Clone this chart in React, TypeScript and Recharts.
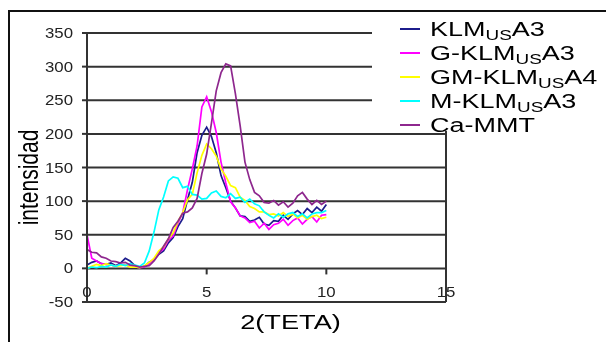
import { LineChart, Line, XAxis, YAxis, CartesianGrid, ReferenceLine, Legend } from "recharts";

// 2θ positions, same for every sample
const twoTheta = [0, 0.2, 0.4, 0.6, 0.8, 1, 1.2, 1.4, 1.6, 1.8, 2, 2.2, 2.4, 2.6, 2.8, 3, 3.2, 3.4, 3.6, 3.8, 4, 4.2, 4.4, 4.6, 4.8, 5, 5.2, 5.4, 5.6, 5.8, 6, 6.2, 6.4, 6.6, 6.8, 7, 7.2, 7.4, 7.6, 7.8, 8, 8.2, 8.4, 8.6, 8.8, 9, 9.2, 9.4, 9.6, 9.8, 10];

const klm = [5, 9, 11, 7, 6, 8, 4, 8, 15, 11, 4, 1, 3, 9, 13, 21, 26, 38, 46, 62, 74, 102, 128, 172, 198, 210, 196, 172, 138, 120, 100, 90, 78, 77, 70, 72, 76, 66, 64, 71, 70, 79, 73, 81, 86, 80, 89, 83, 91, 85, 95];
const gKlm = [50, 15, 11, 7, 6, 5, 3, 6, 5, 4, 2, 1, 2, 7, 14, 23, 29, 42, 48, 67, 83, 117, 148, 182, 240, 255, 233, 202, 158, 127, 99, 90, 78, 75, 68, 70, 60, 67, 58, 65, 67, 73, 64, 71, 75, 66, 73, 77, 69, 79, 80];
const gmKlm = [0, 3, 6, 4, 7, 5, 3, 4, 5, 2, 2, 1, 4, 9, 15, 26, 32, 44, 53, 70, 83, 102, 110, 142, 168, 185, 178, 167, 148, 137, 123, 120, 106, 101, 92, 89, 84, 84, 80, 81, 78, 83, 77, 81, 75, 79, 73, 77, 79, 74, 76];
const mKlm = [0, 2, 1, 3, 2, 5, 3, 6, 4, 7, 5, 3, 8, 26, 54, 87, 106, 130, 136, 134, 120, 122, 110, 109, 103, 104, 112, 115, 107, 105, 111, 104, 106, 98, 103, 96, 93, 84, 79, 75, 81, 76, 81, 83, 77, 81, 75, 81, 83, 83, 86];
const caMmt = [28, 24, 23, 17, 15, 11, 10, 8, 9, 5, 4, 2, 3, 4, 11, 21, 33, 44, 61, 70, 82, 84, 90, 104, 141, 170, 216, 264, 291, 304, 301, 260, 212, 158, 132, 113, 108, 98, 97, 101, 94, 99, 91, 97, 108, 113, 103, 95, 101, 95, 100];

const seriesKeys = ["klm", "gKlm", "gmKlm", "mKlm", "caMmt"];
const labelMain = ["KLM", "G-KLM", "GM-KLM", "M-KLM", "Ca-MMT"];
const labelSub = ["US", "US", "US", "US", ""];
const labelEnd = ["A3", "A3", "A4", "A3", ""];
const colors = ["#1c1c8c", "#ff00ff", "#ffff00", "#00ffff", "#8e278e"];

const xTicks = [0, 5, 10, 15];
const yTicks = [-50, 0, 50, 100, 150, 200, 250, 300, 350];

const rows = twoTheta.map((x, i) => ({
  x,
  klm: klm[i],
  gKlm: gKlm[i],
  gmKlm: gmKlm[i],
  mKlm: mKlm[i],
  caMmt: caMmt[i],
}));

const FONT = "'Liberation Sans', Arial, sans-serif";
const GRID = "#333";

const YTick = ({ x, y, payload }: any) => (
  <text transform={`translate(${x},${y}) scale(1.2,1)`} textAnchor="end" dy="0.36em"
    fontSize={14} fill="#222" fontFamily={FONT}>{payload.value}</text>
);

const XTick = ({ x, y, payload }: any) => (
  <text transform={`translate(${x},${y - 10}) scale(1.2,1)`} textAnchor="middle" dy="0.36em"
    fontSize={14} fill="#222" fontFamily={FONT}>{payload.value}</text>
);

const renderLegend = () => (
  <div style={{ paddingTop: 4, fontFamily: FONT }}>
    {labelMain.map((m, i) => (
      <div key={m} style={{ height: 24, display: "flex", alignItems: "center" }}>
        <span style={{ marginLeft: 28, width: 20, height: 2, background: colors[i] }} />
        <span style={{ marginLeft: 10, fontSize: 20, lineHeight: "18px", color: "#000", display: "inline-block",
          transform: "scaleX(1.35)", transformOrigin: "left center", whiteSpace: "nowrap" }}>
          {m}
          {labelSub[i] && <span style={{ fontSize: 14, lineHeight: "12px", position: "relative", top: 4 }}>{labelSub[i]}</span>}
          {labelEnd[i]}
        </span>
      </div>
    ))}
  </div>
);

export default function App() {
  return (
    <>
      {/* outer frame of the figure */}
      <div style={{ position: "fixed", left: 8, top: 10, width: 700, height: 400,
        borderTop: "2px solid #111", borderLeft: "2px solid #111" }} />
      <div style={{ position: "fixed", left: 8, top: 8, width: 598, height: 334 }}>
        <LineChart width={598} height={334} data={rows} margin={{ top: 25, right: 160, bottom: 0, left: 0 }}>
          <CartesianGrid vertical={false} stroke={GRID} strokeWidth={2} />
          <XAxis dataKey="x" type="number" domain={[0, 15]} ticks={xTicks} height={40}
            axisLine={{ stroke: GRID, strokeWidth: 2 }} tickLine={false} tickSize={0} tickMargin={0}
            tick={<XTick />} interval={0}
            label={{
              value: "2(TETA)",
              content: ({ viewBox }: any) => (
                <text transform={`translate(${viewBox.x + viewBox.width / 2 + 24},${viewBox.y + 20}) scale(1.36,1)`}
                  textAnchor="middle" dy="0.36em" fontSize={20} fill="#000" fontFamily={FONT}>2(TETA)</text>
              ),
            }} />
          <YAxis type="number" domain={[-50, 350]} ticks={yTicks} width={79} interval={0}
            axisLine={{ stroke: GRID, strokeWidth: 2 }} tickLine={{ stroke: GRID, strokeWidth: 2 }}
            tickSize={5} tickMargin={9} tick={<YTick />}
            label={{
              value: "intensidad",
              content: ({ viewBox }: any) => (
                <text transform={`translate(${viewBox.x + 20},${viewBox.y + viewBox.height / 2 + 10}) rotate(-90) scale(1,1.3)`}
                  textAnchor="middle" dy="0.36em" fontSize={21} fill="#000" fontFamily={FONT}>intensidad</text>
              ),
            }} />
          <ReferenceLine x={15} stroke={GRID} strokeWidth={2} />
          {xTicks.slice(1, 3).map((t) => (
            <ReferenceLine key={t} segment={[{ x: t, y: 0 }, { x: t, y: -9 }]} stroke={GRID} strokeWidth={2} />
          ))}
          {seriesKeys.map((k, i) => (
            <Line key={k} dataKey={k} type="linear" stroke={colors[i]} strokeWidth={1.7}
              dot={false} isAnimationActive={false} />
          ))}
          <Legend layout="vertical" align="center" verticalAlign="middle" content={renderLegend}
            wrapperStyle={{ left: 364, top: 5, width: 234, height: 118, background: "#fff" }} />
        </LineChart>
      </div>
    </>
  );
}
